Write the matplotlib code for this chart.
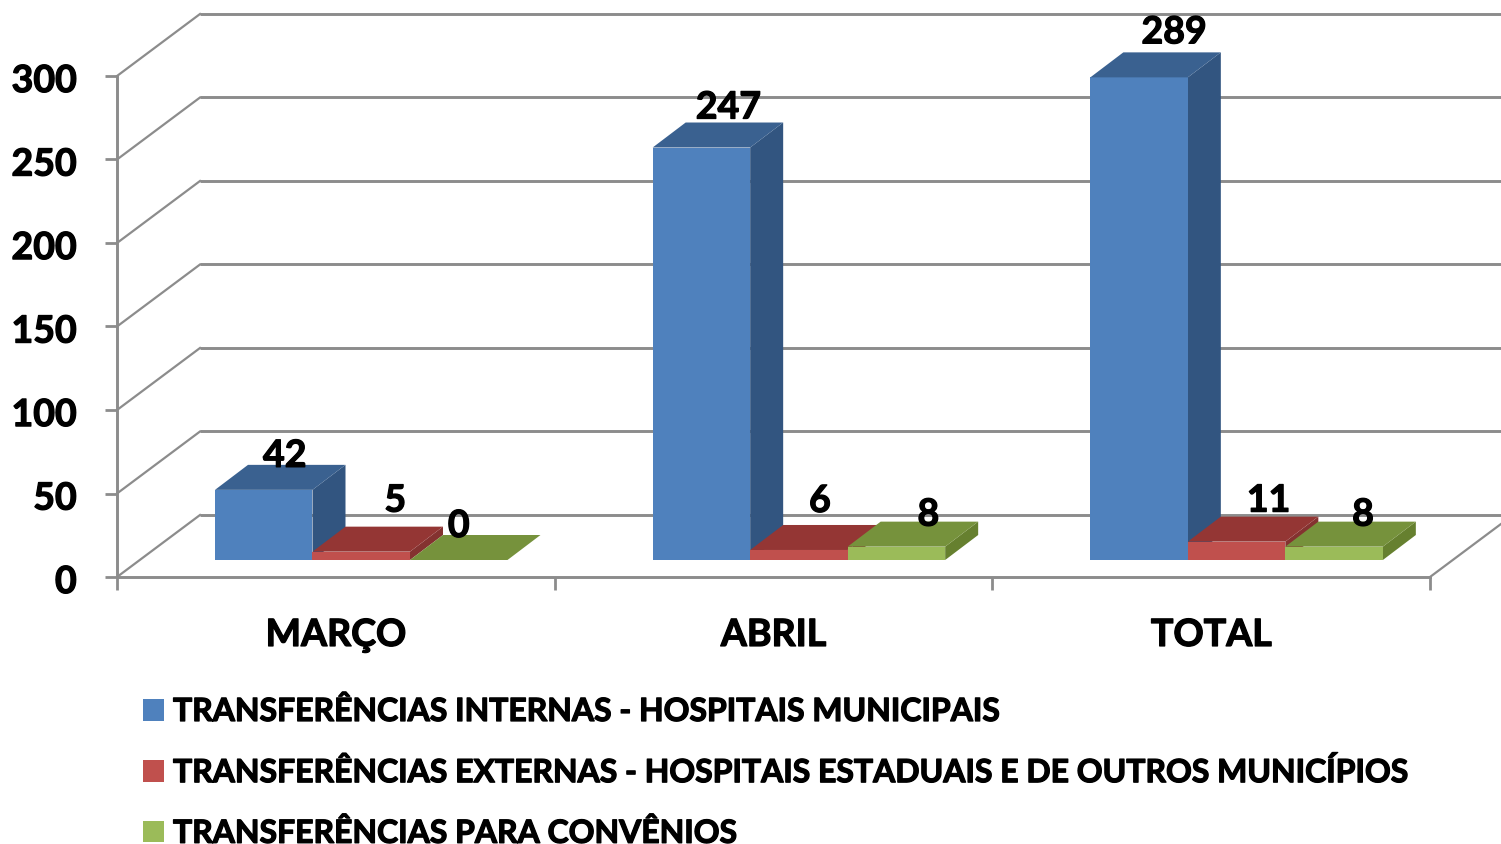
import matplotlib
matplotlib.use("Agg")
import matplotlib.pyplot as plt
import matplotlib.patheffects as pe
from matplotlib.patches import Polygon, Patch
from matplotlib.transforms import ScaledTranslation

categories = ["MARÇO", "ABRIL", "TOTAL"]
internas = [42, 247, 289]
externas = [5, 6, 11]
convenios = [0, 8, 8]
series_names = [
    "TRANSFERÊNCIAS INTERNAS - HOSPITAIS MUNICIPAIS",
    "TRANSFERÊNCIAS EXTERNAS - HOSPITAIS ESTADUAIS E DE OUTROS MUNICÍPIOS",
    "TRANSFERÊNCIAS PARA CONVÊNIOS",
]
y_ticks = [0, 50, 100, 150, 200, 250, 300]

# pixel offsets of the value labels, relative to the back top edge centre of each bar
label_dx = [[21, 34, 0], [27, 21, 32], [35, 32, 29]]
label_dy = [[9, 26, 9], [15, 24, 7], [20, 16, 7]]

front = ["#4F81BD", "#C0504D", "#9BBB59"]
top = ["#3A6190", "#943634", "#76923C"]
side = ["#325580", "#843230", "#66802F"]
AXC = "#8C8C8C"
FONT = "Lato"
HEAVY = [pe.withStroke(linewidth=0.9, foreground="black")]

W, H = 1501, 844
fig = plt.figure(figsize=(W / 100, H / 100), dpi=100, facecolor="white")
ax = fig.add_axes([117 / W, (H - 577) / H, (1430 - 117) / W, (577 - 76) / H])
ax.set_xlim(0, 3)
ax.set_ylim(0, 300)
ax.set_facecolor("none")

xpx = (1430 - 117) / 3
ypx = (577 - 76) / 300
wall_dx, wall_dy = 83 / xpx, 62 / ypx
bar_dx, bar_dy = 33 / xpx, 25 / ypx
bar_x0, bar_w = 98 / xpx, 97.5 / xpx
floor = 17 / ypx

# back wall grid and side wall diagonals
xmax = (W - 117) / xpx
for t in y_ticks:
    ax.plot([wall_dx, xmax], [t + wall_dy] * 2, color=AXC, lw=2.1, clip_on=False, zorder=1,
            solid_capstyle="butt")
    ax.plot([0, wall_dx], [t, t + wall_dy], color=AXC, lw=1.6, clip_on=False, zorder=1)
ax.plot([3, xmax], [0, (xmax - 3) * wall_dy / wall_dx], color=AXC, lw=1.6, clip_on=False, zorder=1)

# 3-D style bars
for c in range(len(categories)):
    for s, vals in enumerate([internas, externas, convenios]):
        x0 = c + bar_x0 + s * bar_w
        x1 = x0 + bar_w
        y0 = floor
        y1 = floor + vals[c]
        z = 3 + c + 0.1 * s
        if vals[c] > 0:
            ax.add_patch(Polygon([(x1, y0), (x1 + bar_dx, y0 + bar_dy), (x1 + bar_dx, y1 + bar_dy), (x1, y1)],
                                 fc=side[s], ec="none", clip_on=False, zorder=z))
            ax.add_patch(Polygon([(x0, y0), (x1, y0), (x1, y1), (x0, y1)],
                                 fc=front[s], ec="none", clip_on=False, zorder=z))
        ax.add_patch(Polygon([(x0, y1), (x1, y1), (x1 + bar_dx, y1 + bar_dy), (x0 + bar_dx, y1 + bar_dy)],
                             fc=top[s], ec="none", clip_on=False, zorder=z))
        ax.annotate(str(vals[c]), xy=((x0 + x1) / 2, y1 + bar_dy),
                    xytext=(label_dx[c][s], label_dy[c][s]), textcoords="offset pixels",
                    ha="center", va="center", fontsize=27, fontweight="bold", family=FONT,
                    color="black", zorder=20, annotation_clip=False, path_effects=HEAVY)

# axes
for name in ("top", "right"):
    ax.spines[name].set_visible(False)
for name in ("left", "bottom"):
    ax.spines[name].set_color(AXC)
    ax.spines[name].set_linewidth(2.1)
    ax.spines[name].set_zorder(2)

ax.set_yticks(y_ticks)
ax.tick_params(axis="y", length=9, width=2.0, color=AXC, pad=20, labelsize=27)
ax.set_xticks([0, 1, 2, 3])
ax.set_xticklabels([])
ax.tick_params(axis="x", which="major", length=9.5, width=2.0, color=AXC)
ax.set_xticks([0.5, 1.5, 2.5], minor=True)
ax.set_xticklabels(categories, minor=True)
ax.tick_params(axis="x", which="minor", length=0, pad=29.5, labelsize=27)
shift = ScaledTranslation(0, -1.5 / 72, fig.dpi_scale_trans)
for lb in ax.get_yticklabels():
    lb.set_transform(lb.get_transform() + shift)
for lb in ax.get_yticklabels() + ax.get_xticklabels(minor=True):
    lb.set_fontweight("bold")
    lb.set_family(FONT)
    lb.set_color("black")
    lb.set_path_effects(HEAVY)

# legend
handles = [Patch(fc=front[i], ec="none", label=series_names[i]) for i in range(3)]
leg = fig.legend(handles=handles, loc="upper left", bbox_to_anchor=(143 / W, (H - 696) / H),
                 bbox_transform=fig.transFigure, frameon=False, borderpad=0, borderaxespad=0,
                 handlelength=0.66, handleheight=0.66, handletextpad=0.28, labelspacing=0.96,
                 prop={"family": FONT, "weight": "bold", "size": 23})
for t in leg.get_texts():
    t.set_path_effects(HEAVY)

fig.savefig("out.png", dpi=100)
